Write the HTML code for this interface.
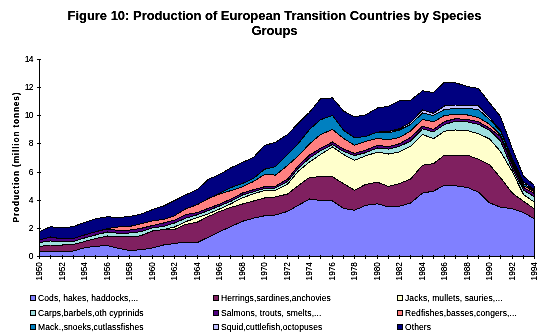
<!DOCTYPE html>
<html><head><meta charset="utf-8"><style>
html,body{margin:0;padding:0;background:#fff;width:546px;height:336px;overflow:hidden}
svg{position:absolute;left:0;top:0}
.tt{font-family:"Liberation Sans",sans-serif;font-weight:bold;font-size:13px;letter-spacing:-0.02px}
.yl{font-family:"Liberation Sans",sans-serif;font-weight:bold;font-size:8.3px;letter-spacing:0.85px}
.tk{font-family:"Liberation Sans",sans-serif;font-size:8.3px}
.tky{font-family:"Liberation Sans",sans-serif;font-size:8.5px;letter-spacing:-0.6px}
.lg{font-family:"Liberation Sans",sans-serif;font-size:8.5px;letter-spacing:0.1px}
</style></head><body>
<svg width="546" height="336" viewBox="0 0 546 336" shape-rendering="crispEdges">
<defs><filter id="crisp" x="0" y="0" width="100%" height="100%" filterUnits="userSpaceOnUse"><feComponentTransfer><feFuncA type="linear" slope="1.6" intercept="-0.1"/></feComponentTransfer></filter></defs>
<g filter="url(#crisp)"><text x="274.5" y="20" text-anchor="middle" class="tt">Figure 10: Production of European Transition Countries by Species</text>
<text x="274.5" y="35" text-anchor="middle" class="tt">Groups</text>
<text transform="translate(19,157) rotate(-90)" text-anchor="middle" class="yl">Production (million tonnes)</text></g>
<polygon points="39.50,252.00 50.50,251.50 62.50,251.20 73.50,251.00 84.50,247.80 95.50,246.20 107.50,245.75 118.50,248.25 129.50,250.50 140.50,249.75 152.50,248.00 163.50,245.00 174.50,243.50 185.50,242.10 197.50,242.50 208.50,237.10 219.50,231.80 230.50,226.70 242.50,221.30 253.50,218.20 264.50,215.80 275.50,215.00 287.50,211.40 298.50,205.20 309.50,199.00 320.50,200.50 332.50,201.00 343.50,208.30 354.50,210.30 365.50,205.40 377.50,203.80 388.50,206.90 399.50,206.20 410.50,203.10 422.50,193.10 433.50,191.10 444.50,185.30 455.50,185.80 467.50,187.50 478.50,192.20 489.50,202.80 500.50,207.20 512.50,208.70 523.50,212.50 534.50,219.00 534.50,256.50 523.50,256.50 512.50,256.50 500.50,256.50 489.50,256.50 478.50,256.50 467.50,256.50 455.50,256.50 444.50,256.50 433.50,256.50 422.50,256.50 410.50,256.50 399.50,256.50 388.50,256.50 377.50,256.50 365.50,256.50 354.50,256.50 343.50,256.50 332.50,256.50 320.50,256.50 309.50,256.50 298.50,256.50 287.50,256.50 275.50,256.50 264.50,256.50 253.50,256.50 242.50,256.50 230.50,256.50 219.50,256.50 208.50,256.50 197.50,256.50 185.50,256.50 174.50,256.50 163.50,256.50 152.50,256.50 140.50,256.50 129.50,256.50 118.50,256.50 107.50,256.50 95.50,256.50 84.50,256.50 73.50,256.50 62.50,256.50 50.50,256.50 39.50,256.50" fill="#8080FF"/>
<polygon points="39.50,246.50 50.50,245.00 62.50,245.00 73.50,244.50 84.50,241.50 95.50,238.50 107.50,236.00 118.50,236.75 129.50,237.00 140.50,235.80 152.50,231.00 163.50,229.50 174.50,229.50 185.50,224.50 197.50,222.00 208.50,216.40 219.50,211.50 230.50,207.50 242.50,204.00 253.50,201.00 264.50,198.00 275.50,197.00 287.50,194.00 298.50,185.50 309.50,177.40 320.50,176.75 332.50,176.75 343.50,183.70 354.50,190.20 365.50,184.50 377.50,182.20 388.50,186.50 399.50,183.50 410.50,179.10 422.50,165.20 433.50,163.70 444.50,155.10 455.50,155.30 467.50,155.20 478.50,159.30 489.50,164.70 500.50,177.70 512.50,193.30 523.50,201.20 534.50,209.00 534.50,219.00 523.50,212.50 512.50,208.70 500.50,207.20 489.50,202.80 478.50,192.20 467.50,187.50 455.50,185.80 444.50,185.30 433.50,191.10 422.50,193.10 410.50,203.10 399.50,206.20 388.50,206.90 377.50,203.80 365.50,205.40 354.50,210.30 343.50,208.30 332.50,201.00 320.50,200.50 309.50,199.00 298.50,205.20 287.50,211.40 275.50,215.00 264.50,215.80 253.50,218.20 242.50,221.30 230.50,226.70 219.50,231.80 208.50,237.10 197.50,242.50 185.50,242.10 174.50,243.50 163.50,245.00 152.50,248.00 140.50,249.75 129.50,250.50 118.50,248.25 107.50,245.75 95.50,246.20 84.50,247.80 73.50,251.00 62.50,251.20 50.50,251.50 39.50,252.00" fill="#802060"/>
<polygon points="39.50,246.50 50.50,245.00 62.50,245.00 73.50,244.50 84.50,241.50 95.50,238.50 107.50,236.00 118.50,236.75 129.50,237.00 140.50,235.80 152.50,231.00 163.50,229.50 174.50,227.00 185.50,221.75 197.50,217.50 208.50,213.80 219.50,209.00 230.50,204.00 242.50,197.80 253.50,193.80 264.50,190.50 275.50,190.10 287.50,184.25 298.50,171.00 309.50,162.00 320.50,154.50 332.50,147.00 343.50,154.50 354.50,160.25 365.50,155.90 377.50,152.10 388.50,154.00 399.50,151.90 410.50,146.25 422.50,134.40 433.50,138.75 444.50,131.20 455.50,130.00 467.50,130.60 478.50,133.75 489.50,138.90 500.50,151.50 512.50,172.20 523.50,194.50 534.50,202.30 534.50,209.00 523.50,201.20 512.50,193.30 500.50,177.70 489.50,164.70 478.50,159.30 467.50,155.20 455.50,155.30 444.50,155.10 433.50,163.70 422.50,165.20 410.50,179.10 399.50,183.50 388.50,186.50 377.50,182.20 365.50,184.50 354.50,190.20 343.50,183.70 332.50,176.75 320.50,176.75 309.50,177.40 298.50,185.50 287.50,194.00 275.50,197.00 264.50,198.00 253.50,201.00 242.50,204.00 230.50,207.50 219.50,211.50 208.50,216.40 197.50,222.00 185.50,224.50 174.50,229.50 163.50,229.50 152.50,231.00 140.50,235.80 129.50,237.00 118.50,236.75 107.50,236.00 95.50,238.50 84.50,241.50 73.50,244.50 62.50,245.00 50.50,245.00 39.50,246.50" fill="#FFFFCC"/>
<polygon points="39.50,242.50 50.50,241.00 62.50,241.50 73.50,241.50 84.50,238.00 95.50,235.00 107.50,232.00 118.50,233.25 129.50,233.00 140.50,231.75 152.50,227.70 163.50,226.50 174.50,223.00 185.50,218.25 197.50,214.70 208.50,210.50 219.50,206.00 230.50,201.50 242.50,195.00 253.50,191.75 264.50,188.50 275.50,188.00 287.50,181.50 298.50,168.00 309.50,158.25 320.50,150.75 332.50,144.50 343.50,151.50 354.50,155.50 365.50,152.75 377.50,148.00 388.50,149.10 399.50,146.25 410.50,141.25 422.50,128.75 433.50,131.90 444.50,124.50 455.50,121.25 467.50,121.90 478.50,124.40 489.50,130.20 500.50,141.00 512.50,169.50 523.50,190.00 534.50,197.00 534.50,202.30 523.50,194.50 512.50,172.20 500.50,151.50 489.50,138.90 478.50,133.75 467.50,130.60 455.50,130.00 444.50,131.20 433.50,138.75 422.50,134.40 410.50,146.25 399.50,151.90 388.50,154.00 377.50,152.10 365.50,155.90 354.50,160.25 343.50,154.50 332.50,147.00 320.50,154.50 309.50,162.00 298.50,171.00 287.50,184.25 275.50,190.10 264.50,190.50 253.50,193.80 242.50,197.80 230.50,204.00 219.50,209.00 208.50,213.80 197.50,217.50 185.50,221.75 174.50,227.00 163.50,229.50 152.50,231.00 140.50,235.80 129.50,237.00 118.50,236.75 107.50,236.00 95.50,238.50 84.50,241.50 73.50,244.50 62.50,245.00 50.50,245.00 39.50,246.50" fill="#A0E0E0"/>
<polygon points="39.50,240.00 50.50,237.00 62.50,239.00 73.50,238.50 84.50,235.00 95.50,231.75 107.50,229.00 118.50,230.50 129.50,230.10 140.50,228.50 152.50,225.50 163.50,223.00 174.50,220.10 185.50,214.70 197.50,212.50 208.50,208.25 219.50,204.10 230.50,199.30 242.50,193.00 253.50,189.70 264.50,186.75 275.50,186.30 287.50,179.00 298.50,165.50 309.50,155.10 320.50,148.25 332.50,142.00 343.50,149.00 354.50,153.40 365.50,150.25 377.50,145.25 388.50,146.70 399.50,143.75 410.50,137.50 422.50,126.25 433.50,129.40 444.50,121.50 455.50,118.75 467.50,119.40 478.50,121.90 489.50,128.10 500.50,136.50 512.50,165.50 523.50,187.50 534.50,193.50 534.50,197.00 523.50,190.00 512.50,169.50 500.50,141.00 489.50,130.20 478.50,124.40 467.50,121.90 455.50,121.25 444.50,124.50 433.50,131.90 422.50,128.75 410.50,141.25 399.50,146.25 388.50,149.10 377.50,148.00 365.50,152.75 354.50,155.50 343.50,151.50 332.50,144.50 320.50,150.75 309.50,158.25 298.50,168.00 287.50,181.50 275.50,188.00 264.50,188.50 253.50,191.75 242.50,195.00 230.50,201.50 219.50,206.00 208.50,210.50 197.50,214.70 185.50,218.25 174.50,223.00 163.50,226.50 152.50,227.70 140.50,231.75 129.50,233.00 118.50,233.25 107.50,232.00 95.50,235.00 84.50,238.00 73.50,241.50 62.50,241.50 50.50,241.00 39.50,242.50" fill="#500080"/>
<polygon points="39.50,240.00 50.50,237.00 62.50,239.00 73.50,238.50 84.50,235.00 95.50,231.75 107.50,228.50 118.50,227.00 129.50,226.50 140.50,223.80 152.50,220.80 163.50,219.50 174.50,215.75 185.50,209.00 197.50,204.50 208.50,198.50 219.50,194.10 230.50,190.70 242.50,186.80 253.50,181.50 264.50,174.50 275.50,175.10 287.50,165.50 298.50,155.75 309.50,143.90 320.50,134.50 332.50,129.50 343.50,138.40 354.50,145.25 365.50,141.50 377.50,138.40 388.50,139.80 399.50,137.50 410.50,131.00 422.50,119.40 433.50,121.90 444.50,115.50 455.50,114.40 467.50,115.00 478.50,117.50 489.50,124.30 500.50,135.00 512.50,162.50 523.50,185.50 534.50,192.00 534.50,193.50 523.50,187.50 512.50,165.50 500.50,136.50 489.50,128.10 478.50,121.90 467.50,119.40 455.50,118.75 444.50,121.50 433.50,129.40 422.50,126.25 410.50,137.50 399.50,143.75 388.50,146.70 377.50,145.25 365.50,150.25 354.50,153.40 343.50,149.00 332.50,142.00 320.50,148.25 309.50,155.10 298.50,165.50 287.50,179.00 275.50,186.30 264.50,186.75 253.50,189.70 242.50,193.00 230.50,199.30 219.50,204.10 208.50,208.25 197.50,212.50 185.50,214.70 174.50,220.10 163.50,223.00 152.50,225.50 140.50,228.50 129.50,230.10 118.50,230.50 107.50,229.00 95.50,231.75 84.50,235.00 73.50,238.50 62.50,239.00 50.50,237.00 39.50,240.00" fill="#FF8080"/>
<polygon points="39.50,240.00 50.50,237.00 62.50,239.00 73.50,238.50 84.50,235.00 95.50,231.75 107.50,228.50 118.50,227.00 129.50,226.50 140.50,223.80 152.50,220.80 163.50,219.50 174.50,215.75 185.50,209.00 197.50,204.50 208.50,198.50 219.50,193.50 230.50,187.70 242.50,183.50 253.50,178.40 264.50,169.25 275.50,166.60 287.50,154.50 298.50,143.25 309.50,129.50 320.50,119.75 332.50,115.40 343.50,130.25 354.50,137.75 365.50,136.50 377.50,132.10 388.50,132.80 399.50,130.00 410.50,124.50 422.50,113.00 433.50,115.50 444.50,109.50 455.50,108.50 467.50,108.50 478.50,109.50 489.50,119.50 500.50,131.00 512.50,160.50 523.50,183.50 534.50,191.00 534.50,192.00 523.50,185.50 512.50,162.50 500.50,135.00 489.50,124.30 478.50,117.50 467.50,115.00 455.50,114.40 444.50,115.50 433.50,121.90 422.50,119.40 410.50,131.00 399.50,137.50 388.50,139.80 377.50,138.40 365.50,141.50 354.50,145.25 343.50,138.40 332.50,129.50 320.50,134.50 309.50,143.90 298.50,155.75 287.50,165.50 275.50,175.10 264.50,174.50 253.50,181.50 242.50,186.80 230.50,190.70 219.50,194.10 208.50,198.50 197.50,204.50 185.50,209.00 174.50,215.75 163.50,219.50 152.50,220.80 140.50,223.80 129.50,226.50 118.50,227.00 107.50,228.50 95.50,231.75 84.50,235.00 73.50,238.50 62.50,239.00 50.50,237.00 39.50,240.00" fill="#0080C0"/>
<polygon points="39.50,240.00 50.50,237.00 62.50,239.00 73.50,238.50 84.50,235.00 95.50,231.75 107.50,228.50 118.50,227.00 129.50,226.50 140.50,223.80 152.50,220.80 163.50,219.50 174.50,215.75 185.50,209.00 197.50,204.50 208.50,198.50 219.50,193.50 230.50,187.70 242.50,183.50 253.50,178.40 264.50,169.25 275.50,166.60 287.50,154.50 298.50,143.25 309.50,129.50 320.50,119.75 332.50,115.40 343.50,130.25 354.50,137.75 365.50,136.50 377.50,132.10 388.50,131.50 399.50,128.75 410.50,122.50 422.50,110.00 433.50,113.30 444.50,106.00 455.50,105.00 467.50,105.00 478.50,106.00 489.50,117.50 500.50,130.20 512.50,158.80 523.50,182.00 534.50,189.70 534.50,191.00 523.50,183.50 512.50,160.50 500.50,131.00 489.50,119.50 478.50,109.50 467.50,108.50 455.50,108.50 444.50,109.50 433.50,115.50 422.50,113.00 410.50,124.50 399.50,130.00 388.50,132.80 377.50,132.10 365.50,136.50 354.50,137.75 343.50,130.25 332.50,115.40 320.50,119.75 309.50,129.50 298.50,143.25 287.50,154.50 275.50,166.60 264.50,169.25 253.50,178.40 242.50,183.50 230.50,187.70 219.50,193.50 208.50,198.50 197.50,204.50 185.50,209.00 174.50,215.75 163.50,219.50 152.50,220.80 140.50,223.80 129.50,226.50 118.50,227.00 107.50,228.50 95.50,231.75 84.50,235.00 73.50,238.50 62.50,239.00 50.50,237.00 39.50,240.00" fill="#C0C0FF"/>
<polygon points="39.50,231.50 50.50,226.70 62.50,228.00 73.50,226.50 84.50,222.50 95.50,218.80 107.50,216.80 118.50,217.50 129.50,216.50 140.50,214.25 152.50,209.60 163.50,206.00 174.50,200.50 185.50,194.90 197.50,189.50 208.50,179.25 219.50,174.50 230.50,168.00 242.50,162.40 253.50,157.40 264.50,145.50 275.50,142.20 287.50,134.50 298.50,123.00 309.50,112.25 320.50,98.75 332.50,97.90 343.50,111.00 354.50,116.75 365.50,114.90 377.50,108.00 388.50,106.30 399.50,100.90 410.50,100.25 422.50,90.80 433.50,92.50 444.50,82.10 455.50,82.75 467.50,86.50 478.50,88.40 489.50,102.75 500.50,116.50 512.50,149.00 523.50,176.00 534.50,185.50 534.50,189.70 523.50,182.00 512.50,158.80 500.50,130.20 489.50,117.50 478.50,106.00 467.50,105.00 455.50,105.00 444.50,106.00 433.50,113.30 422.50,110.00 410.50,122.50 399.50,128.75 388.50,131.50 377.50,132.10 365.50,136.50 354.50,137.75 343.50,130.25 332.50,115.40 320.50,119.75 309.50,129.50 298.50,143.25 287.50,154.50 275.50,166.60 264.50,169.25 253.50,178.40 242.50,183.50 230.50,187.70 219.50,193.50 208.50,198.50 197.50,204.50 185.50,209.00 174.50,215.75 163.50,219.50 152.50,220.80 140.50,223.80 129.50,226.50 118.50,227.00 107.50,228.50 95.50,231.75 84.50,235.00 73.50,238.50 62.50,239.00 50.50,237.00 39.50,240.00" fill="#000080"/>
<polyline points="39.50,252.00 50.50,251.50 62.50,251.20 73.50,251.00 84.50,247.80 95.50,246.20 107.50,245.75 118.50,248.25 129.50,250.50 140.50,249.75 152.50,248.00 163.50,245.00 174.50,243.50 185.50,242.10 197.50,242.50 208.50,237.10 219.50,231.80 230.50,226.70 242.50,221.30 253.50,218.20 264.50,215.80 275.50,215.00 287.50,211.40 298.50,205.20 309.50,199.00 320.50,200.50 332.50,201.00 343.50,208.30 354.50,210.30 365.50,205.40 377.50,203.80 388.50,206.90 399.50,206.20 410.50,203.10 422.50,193.10 433.50,191.10 444.50,185.30 455.50,185.80 467.50,187.50 478.50,192.20 489.50,202.80 500.50,207.20 512.50,208.70 523.50,212.50 534.50,219.00" fill="none" stroke="#000" stroke-width="1"/>
<polyline points="39.50,246.50 50.50,245.00 62.50,245.00 73.50,244.50 84.50,241.50 95.50,238.50 107.50,236.00 118.50,236.75 129.50,237.00 140.50,235.80 152.50,231.00 163.50,229.50 174.50,229.50 185.50,224.50 197.50,222.00 208.50,216.40 219.50,211.50 230.50,207.50 242.50,204.00 253.50,201.00 264.50,198.00 275.50,197.00 287.50,194.00 298.50,185.50 309.50,177.40 320.50,176.75 332.50,176.75 343.50,183.70 354.50,190.20 365.50,184.50 377.50,182.20 388.50,186.50 399.50,183.50 410.50,179.10 422.50,165.20 433.50,163.70 444.50,155.10 455.50,155.30 467.50,155.20 478.50,159.30 489.50,164.70 500.50,177.70 512.50,193.30 523.50,201.20 534.50,209.00" fill="none" stroke="#000" stroke-width="1"/>
<polyline points="39.50,246.50 50.50,245.00 62.50,245.00 73.50,244.50 84.50,241.50 95.50,238.50 107.50,236.00 118.50,236.75 129.50,237.00 140.50,235.80 152.50,231.00 163.50,229.50 174.50,227.00 185.50,221.75 197.50,217.50 208.50,213.80 219.50,209.00 230.50,204.00 242.50,197.80 253.50,193.80 264.50,190.50 275.50,190.10 287.50,184.25 298.50,171.00 309.50,162.00 320.50,154.50 332.50,147.00 343.50,154.50 354.50,160.25 365.50,155.90 377.50,152.10 388.50,154.00 399.50,151.90 410.50,146.25 422.50,134.40 433.50,138.75 444.50,131.20 455.50,130.00 467.50,130.60 478.50,133.75 489.50,138.90 500.50,151.50 512.50,172.20 523.50,194.50 534.50,202.30" fill="none" stroke="#000" stroke-width="1"/>
<polyline points="39.50,242.50 50.50,241.00 62.50,241.50 73.50,241.50 84.50,238.00 95.50,235.00 107.50,232.00 118.50,233.25 129.50,233.00 140.50,231.75 152.50,227.70 163.50,226.50 174.50,223.00 185.50,218.25 197.50,214.70 208.50,210.50 219.50,206.00 230.50,201.50 242.50,195.00 253.50,191.75 264.50,188.50 275.50,188.00 287.50,181.50 298.50,168.00 309.50,158.25 320.50,150.75 332.50,144.50 343.50,151.50 354.50,155.50 365.50,152.75 377.50,148.00 388.50,149.10 399.50,146.25 410.50,141.25 422.50,128.75 433.50,131.90 444.50,124.50 455.50,121.25 467.50,121.90 478.50,124.40 489.50,130.20 500.50,141.00 512.50,169.50 523.50,190.00 534.50,197.00" fill="none" stroke="#000" stroke-width="1"/>
<polyline points="39.50,240.00 50.50,237.00 62.50,239.00 73.50,238.50 84.50,235.00 95.50,231.75 107.50,229.00 118.50,230.50 129.50,230.10 140.50,228.50 152.50,225.50 163.50,223.00 174.50,220.10 185.50,214.70 197.50,212.50 208.50,208.25 219.50,204.10 230.50,199.30 242.50,193.00 253.50,189.70 264.50,186.75 275.50,186.30 287.50,179.00 298.50,165.50 309.50,155.10 320.50,148.25 332.50,142.00 343.50,149.00 354.50,153.40 365.50,150.25 377.50,145.25 388.50,146.70 399.50,143.75 410.50,137.50 422.50,126.25 433.50,129.40 444.50,121.50 455.50,118.75 467.50,119.40 478.50,121.90 489.50,128.10 500.50,136.50 512.50,165.50 523.50,187.50 534.50,193.50" fill="none" stroke="#000" stroke-width="1"/>
<polyline points="39.50,240.00 50.50,237.00 62.50,239.00 73.50,238.50 84.50,235.00 95.50,231.75 107.50,228.50 118.50,227.00 129.50,226.50 140.50,223.80 152.50,220.80 163.50,219.50 174.50,215.75 185.50,209.00 197.50,204.50 208.50,198.50 219.50,194.10 230.50,190.70 242.50,186.80 253.50,181.50 264.50,174.50 275.50,175.10 287.50,165.50 298.50,155.75 309.50,143.90 320.50,134.50 332.50,129.50 343.50,138.40 354.50,145.25 365.50,141.50 377.50,138.40 388.50,139.80 399.50,137.50 410.50,131.00 422.50,119.40 433.50,121.90 444.50,115.50 455.50,114.40 467.50,115.00 478.50,117.50 489.50,124.30 500.50,135.00 512.50,162.50 523.50,185.50 534.50,192.00" fill="none" stroke="#000" stroke-width="1"/>
<polyline points="39.50,240.00 50.50,237.00 62.50,239.00 73.50,238.50 84.50,235.00 95.50,231.75 107.50,228.50 118.50,227.00 129.50,226.50 140.50,223.80 152.50,220.80 163.50,219.50 174.50,215.75 185.50,209.00 197.50,204.50 208.50,198.50 219.50,193.50 230.50,187.70 242.50,183.50 253.50,178.40 264.50,169.25 275.50,166.60 287.50,154.50 298.50,143.25 309.50,129.50 320.50,119.75 332.50,115.40 343.50,130.25 354.50,137.75 365.50,136.50 377.50,132.10 388.50,132.80 399.50,130.00 410.50,124.50 422.50,113.00 433.50,115.50 444.50,109.50 455.50,108.50 467.50,108.50 478.50,109.50 489.50,119.50 500.50,131.00 512.50,160.50 523.50,183.50 534.50,191.00" fill="none" stroke="#000" stroke-width="1"/>
<polyline points="39.50,240.00 50.50,237.00 62.50,239.00 73.50,238.50 84.50,235.00 95.50,231.75 107.50,228.50 118.50,227.00 129.50,226.50 140.50,223.80 152.50,220.80 163.50,219.50 174.50,215.75 185.50,209.00 197.50,204.50 208.50,198.50 219.50,193.50 230.50,187.70 242.50,183.50 253.50,178.40 264.50,169.25 275.50,166.60 287.50,154.50 298.50,143.25 309.50,129.50 320.50,119.75 332.50,115.40 343.50,130.25 354.50,137.75 365.50,136.50 377.50,132.10 388.50,131.50 399.50,128.75 410.50,122.50 422.50,110.00 433.50,113.30 444.50,106.00 455.50,105.00 467.50,105.00 478.50,106.00 489.50,117.50 500.50,130.20 512.50,158.80 523.50,182.00 534.50,189.70" fill="none" stroke="#000" stroke-width="1"/>
<polyline points="39.50,231.50 50.50,226.70 62.50,228.00 73.50,226.50 84.50,222.50 95.50,218.80 107.50,216.80 118.50,217.50 129.50,216.50 140.50,214.25 152.50,209.60 163.50,206.00 174.50,200.50 185.50,194.90 197.50,189.50 208.50,179.25 219.50,174.50 230.50,168.00 242.50,162.40 253.50,157.40 264.50,145.50 275.50,142.20 287.50,134.50 298.50,123.00 309.50,112.25 320.50,98.75 332.50,97.90 343.50,111.00 354.50,116.75 365.50,114.90 377.50,108.00 388.50,106.30 399.50,100.90 410.50,100.25 422.50,90.80 433.50,92.50 444.50,82.10 455.50,82.75 467.50,86.50 478.50,88.40 489.50,102.75 500.50,116.50 512.50,149.00 523.50,176.00 534.50,185.50" fill="none" stroke="#000" stroke-width="1"/>
<line x1="534.5" y1="185.5" x2="534.5" y2="256.5" stroke="#000" stroke-width="1"/>
<line x1="39.5" y1="59" x2="39.5" y2="257" stroke="#000" stroke-width="1"/>
<line x1="37" y1="256.5" x2="535" y2="256.5" stroke="#000" stroke-width="1"/>
<line x1="37" y1="256.5" x2="41" y2="256.5" stroke="#000" stroke-width="1"/><line x1="37" y1="228.5" x2="41" y2="228.5" stroke="#000" stroke-width="1"/><line x1="37" y1="200.5" x2="41" y2="200.5" stroke="#000" stroke-width="1"/><line x1="37" y1="172.5" x2="41" y2="172.5" stroke="#000" stroke-width="1"/><line x1="37" y1="143.5" x2="41" y2="143.5" stroke="#000" stroke-width="1"/><line x1="37" y1="115.5" x2="41" y2="115.5" stroke="#000" stroke-width="1"/><line x1="37" y1="87.5" x2="41" y2="87.5" stroke="#000" stroke-width="1"/><line x1="37" y1="59.5" x2="41" y2="59.5" stroke="#000" stroke-width="1"/><line x1="39.5" y1="255" x2="39.5" y2="259" stroke="#000" stroke-width="1"/><line x1="50.5" y1="255" x2="50.5" y2="259" stroke="#000" stroke-width="1"/><line x1="62.5" y1="255" x2="62.5" y2="259" stroke="#000" stroke-width="1"/><line x1="73.5" y1="255" x2="73.5" y2="259" stroke="#000" stroke-width="1"/><line x1="84.5" y1="255" x2="84.5" y2="259" stroke="#000" stroke-width="1"/><line x1="95.5" y1="255" x2="95.5" y2="259" stroke="#000" stroke-width="1"/><line x1="107.5" y1="255" x2="107.5" y2="259" stroke="#000" stroke-width="1"/><line x1="118.5" y1="255" x2="118.5" y2="259" stroke="#000" stroke-width="1"/><line x1="129.5" y1="255" x2="129.5" y2="259" stroke="#000" stroke-width="1"/><line x1="140.5" y1="255" x2="140.5" y2="259" stroke="#000" stroke-width="1"/><line x1="152.5" y1="255" x2="152.5" y2="259" stroke="#000" stroke-width="1"/><line x1="163.5" y1="255" x2="163.5" y2="259" stroke="#000" stroke-width="1"/><line x1="174.5" y1="255" x2="174.5" y2="259" stroke="#000" stroke-width="1"/><line x1="185.5" y1="255" x2="185.5" y2="259" stroke="#000" stroke-width="1"/><line x1="197.5" y1="255" x2="197.5" y2="259" stroke="#000" stroke-width="1"/><line x1="208.5" y1="255" x2="208.5" y2="259" stroke="#000" stroke-width="1"/><line x1="219.5" y1="255" x2="219.5" y2="259" stroke="#000" stroke-width="1"/><line x1="230.5" y1="255" x2="230.5" y2="259" stroke="#000" stroke-width="1"/><line x1="242.5" y1="255" x2="242.5" y2="259" stroke="#000" stroke-width="1"/><line x1="253.5" y1="255" x2="253.5" y2="259" stroke="#000" stroke-width="1"/><line x1="264.5" y1="255" x2="264.5" y2="259" stroke="#000" stroke-width="1"/><line x1="275.5" y1="255" x2="275.5" y2="259" stroke="#000" stroke-width="1"/><line x1="287.5" y1="255" x2="287.5" y2="259" stroke="#000" stroke-width="1"/><line x1="298.5" y1="255" x2="298.5" y2="259" stroke="#000" stroke-width="1"/><line x1="309.5" y1="255" x2="309.5" y2="259" stroke="#000" stroke-width="1"/><line x1="320.5" y1="255" x2="320.5" y2="259" stroke="#000" stroke-width="1"/><line x1="332.5" y1="255" x2="332.5" y2="259" stroke="#000" stroke-width="1"/><line x1="343.5" y1="255" x2="343.5" y2="259" stroke="#000" stroke-width="1"/><line x1="354.5" y1="255" x2="354.5" y2="259" stroke="#000" stroke-width="1"/><line x1="365.5" y1="255" x2="365.5" y2="259" stroke="#000" stroke-width="1"/><line x1="377.5" y1="255" x2="377.5" y2="259" stroke="#000" stroke-width="1"/><line x1="388.5" y1="255" x2="388.5" y2="259" stroke="#000" stroke-width="1"/><line x1="399.5" y1="255" x2="399.5" y2="259" stroke="#000" stroke-width="1"/><line x1="410.5" y1="255" x2="410.5" y2="259" stroke="#000" stroke-width="1"/><line x1="422.5" y1="255" x2="422.5" y2="259" stroke="#000" stroke-width="1"/><line x1="433.5" y1="255" x2="433.5" y2="259" stroke="#000" stroke-width="1"/><line x1="444.5" y1="255" x2="444.5" y2="259" stroke="#000" stroke-width="1"/><line x1="455.5" y1="255" x2="455.5" y2="259" stroke="#000" stroke-width="1"/><line x1="467.5" y1="255" x2="467.5" y2="259" stroke="#000" stroke-width="1"/><line x1="478.5" y1="255" x2="478.5" y2="259" stroke="#000" stroke-width="1"/><line x1="489.5" y1="255" x2="489.5" y2="259" stroke="#000" stroke-width="1"/><line x1="500.5" y1="255" x2="500.5" y2="259" stroke="#000" stroke-width="1"/><line x1="512.5" y1="255" x2="512.5" y2="259" stroke="#000" stroke-width="1"/><line x1="523.5" y1="255" x2="523.5" y2="259" stroke="#000" stroke-width="1"/><line x1="534.5" y1="255" x2="534.5" y2="259" stroke="#000" stroke-width="1"/>
<g filter="url(#crisp)"><text x="33" y="259.0" text-anchor="end" class="tky">0</text><text x="33" y="230.9" text-anchor="end" class="tky">2</text><text x="33" y="202.7" text-anchor="end" class="tky">4</text><text x="33" y="174.6" text-anchor="end" class="tky">6</text><text x="33" y="146.4" text-anchor="end" class="tky">8</text><text x="33" y="118.3" text-anchor="end" class="tky">10</text><text x="33" y="90.1" text-anchor="end" class="tky">12</text><text x="33" y="62.0" text-anchor="end" class="tky">14</text><text transform="translate(41.5,262) rotate(-90)" text-anchor="end" class="tk">1950</text><text transform="translate(64.5,262) rotate(-90)" text-anchor="end" class="tk">1952</text><text transform="translate(86.5,262) rotate(-90)" text-anchor="end" class="tk">1954</text><text transform="translate(109.5,262) rotate(-90)" text-anchor="end" class="tk">1956</text><text transform="translate(131.5,262) rotate(-90)" text-anchor="end" class="tk">1958</text><text transform="translate(154.5,262) rotate(-90)" text-anchor="end" class="tk">1960</text><text transform="translate(176.5,262) rotate(-90)" text-anchor="end" class="tk">1962</text><text transform="translate(199.5,262) rotate(-90)" text-anchor="end" class="tk">1964</text><text transform="translate(221.5,262) rotate(-90)" text-anchor="end" class="tk">1966</text><text transform="translate(244.5,262) rotate(-90)" text-anchor="end" class="tk">1968</text><text transform="translate(266.5,262) rotate(-90)" text-anchor="end" class="tk">1970</text><text transform="translate(289.5,262) rotate(-90)" text-anchor="end" class="tk">1972</text><text transform="translate(311.5,262) rotate(-90)" text-anchor="end" class="tk">1974</text><text transform="translate(334.5,262) rotate(-90)" text-anchor="end" class="tk">1976</text><text transform="translate(356.5,262) rotate(-90)" text-anchor="end" class="tk">1978</text><text transform="translate(379.5,262) rotate(-90)" text-anchor="end" class="tk">1980</text><text transform="translate(401.5,262) rotate(-90)" text-anchor="end" class="tk">1982</text><text transform="translate(424.5,262) rotate(-90)" text-anchor="end" class="tk">1984</text><text transform="translate(446.5,262) rotate(-90)" text-anchor="end" class="tk">1986</text><text transform="translate(469.5,262) rotate(-90)" text-anchor="end" class="tk">1988</text><text transform="translate(491.5,262) rotate(-90)" text-anchor="end" class="tk">1990</text><text transform="translate(514.5,262) rotate(-90)" text-anchor="end" class="tk">1992</text><text transform="translate(536.5,262) rotate(-90)" text-anchor="end" class="tk">1994</text></g>
<rect x="30.5" y="295.5" width="5" height="5" fill="#8080FF" stroke="#000" stroke-width="1"/><rect x="213.5" y="295.5" width="5" height="5" fill="#802060" stroke="#000" stroke-width="1"/><rect x="397.5" y="295.5" width="5" height="5" fill="#FFFFCC" stroke="#000" stroke-width="1"/><rect x="30.5" y="310.5" width="5" height="5" fill="#A0E0E0" stroke="#000" stroke-width="1"/><rect x="213.5" y="310.5" width="5" height="5" fill="#500080" stroke="#000" stroke-width="1"/><rect x="397.5" y="310.5" width="5" height="5" fill="#FF8080" stroke="#000" stroke-width="1"/><rect x="30.5" y="324.5" width="5" height="5" fill="#0080C0" stroke="#000" stroke-width="1"/><rect x="213.5" y="324.5" width="5" height="5" fill="#C0C0FF" stroke="#000" stroke-width="1"/><rect x="397.5" y="324.5" width="5" height="5" fill="#000080" stroke="#000" stroke-width="1"/>
<g filter="url(#crisp)"><text x="38" y="301" class="lg">Cods, hakes, haddocks,...</text><text x="221" y="301" class="lg">Herrings,sardines,anchovies</text><text x="405" y="301" class="lg">Jacks, mullets, sauries,...</text><text x="38" y="316" class="lg">Carps,barbels,oth cyprinids</text><text x="221" y="316" class="lg">Salmons, trouts, smelts,...</text><text x="405" y="316" class="lg">Redfishes,basses,congers,...</text><text x="38" y="330" class="lg">Mack.,snoeks,cutlassfishes</text><text x="221" y="330" class="lg">Squid,cuttlefish,octopuses</text><text x="405" y="330" class="lg">Others</text></g>
</svg>
</body></html>
